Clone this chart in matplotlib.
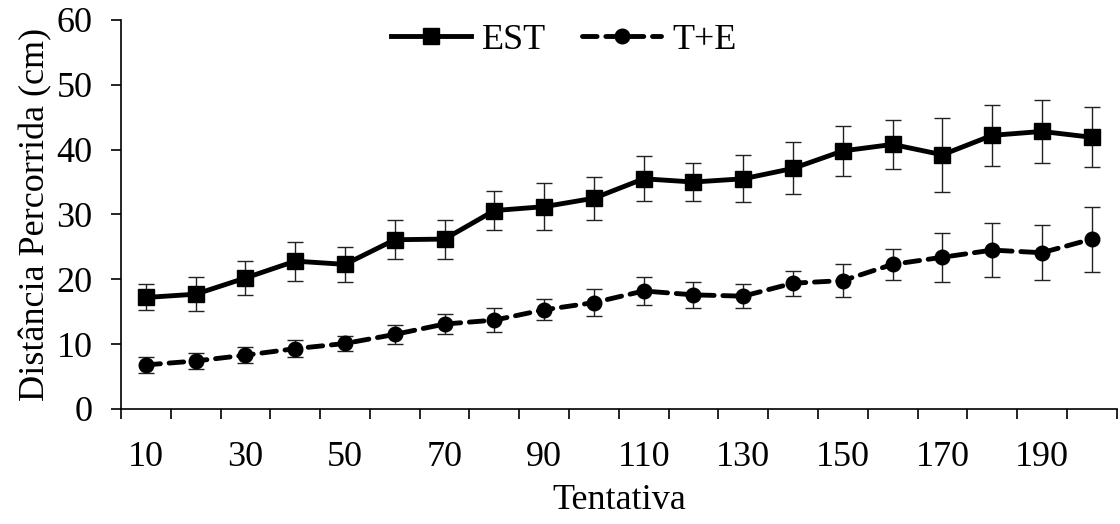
import matplotlib
matplotlib.use("Agg")
import matplotlib.pyplot as plt
import numpy as np

trials = list(range(10, 201, 10))
est_mean = [17.2, 17.7, 20.2, 22.8, 22.3, 26.1, 26.2, 30.6, 31.2, 32.5,
            35.5, 35.0, 35.5, 37.1, 39.8, 40.8, 39.2, 42.2, 42.8, 41.9]
est_err = [2.0, 2.6, 2.6, 3.0, 2.7, 3.0, 3.0, 3.0, 3.6, 3.3,
           3.5, 2.9, 3.6, 4.0, 3.9, 3.8, 5.7, 4.7, 4.8, 4.6]
te_mean = [6.8, 7.4, 8.3, 9.3, 10.1, 11.5, 13.1, 13.7, 15.3, 16.4,
           18.2, 17.6, 17.4, 19.4, 19.8, 22.3, 23.4, 24.5, 24.1, 26.2]
te_err = [1.2, 1.2, 1.2, 1.3, 1.1, 1.5, 1.6, 1.8, 1.6, 2.1,
          2.2, 2.0, 1.9, 1.9, 2.5, 2.4, 3.8, 4.2, 4.2, 5.0]
xtick_labels = [str(t) for t in trials[::2]]

plt.rcParams['font.family'] = ['Liberation Serif', 'DejaVu Serif']
FS = 26

fig = plt.figure(figsize=(11.2, 5.24), dpi=100)
ax = fig.add_axes([0.108, 0.2195, 0.889, 0.7425])

x = np.arange(len(trials)) + 0.5

ax.errorbar(x, est_mean, yerr=est_err, fmt='none', ecolor='#222222',
            elinewidth=1.0, capsize=6, capthick=1.0, zorder=2)
ax.errorbar(x, te_mean, yerr=te_err, fmt='none', ecolor='#222222',
            elinewidth=1.0, capsize=6, capthick=1.0, zorder=2)
ax.plot(x, est_mean, color='black', lw=3.5, marker='s', markersize=12,
        label='EST', zorder=3)
ax.plot(x, te_mean, color='black', lw=3.5, marker='o', markersize=10.5,
        linestyle=(0, (3, 1.8)), dash_capstyle='round', label='T+E', zorder=3)

ax.set_xlim(0, len(trials))
ax.set_ylim(0, 60)
ax.set_yticks(np.arange(0, 61, 10))
ax.set_xticks(np.arange(0, len(trials) + 1))
ax.set_xticklabels([])
ax.set_xticks(x[::2], minor=True)
ax.set_xticklabels(xtick_labels, minor=True)
ax.tick_params(axis='x', which='major', direction='out', length=7.5, width=1.2)
ax.tick_params(axis='x', which='minor', length=0, pad=23, labelsize=FS)
ax.tick_params(axis='y', direction='out', length=7.5, width=1.2, labelsize=FS, pad=13)

for s in ['top', 'right']:
    ax.spines[s].set_visible(False)
for s in ['left', 'bottom']:
    ax.spines[s].set_linewidth(1.2)

ax.set_xlabel('Tentativa', fontsize=FS, labelpad=7)
ax.set_ylabel('Distância Percorrida (cm)', fontsize=FS, labelpad=3)

leg = ax.legend(loc='upper center', bbox_to_anchor=(0.445, 1.075), ncol=2,
                frameon=False, fontsize=FS, handlelength=2.2,
                columnspacing=1.0, handletextpad=0.3)

fig.savefig('out.png', dpi=100)
